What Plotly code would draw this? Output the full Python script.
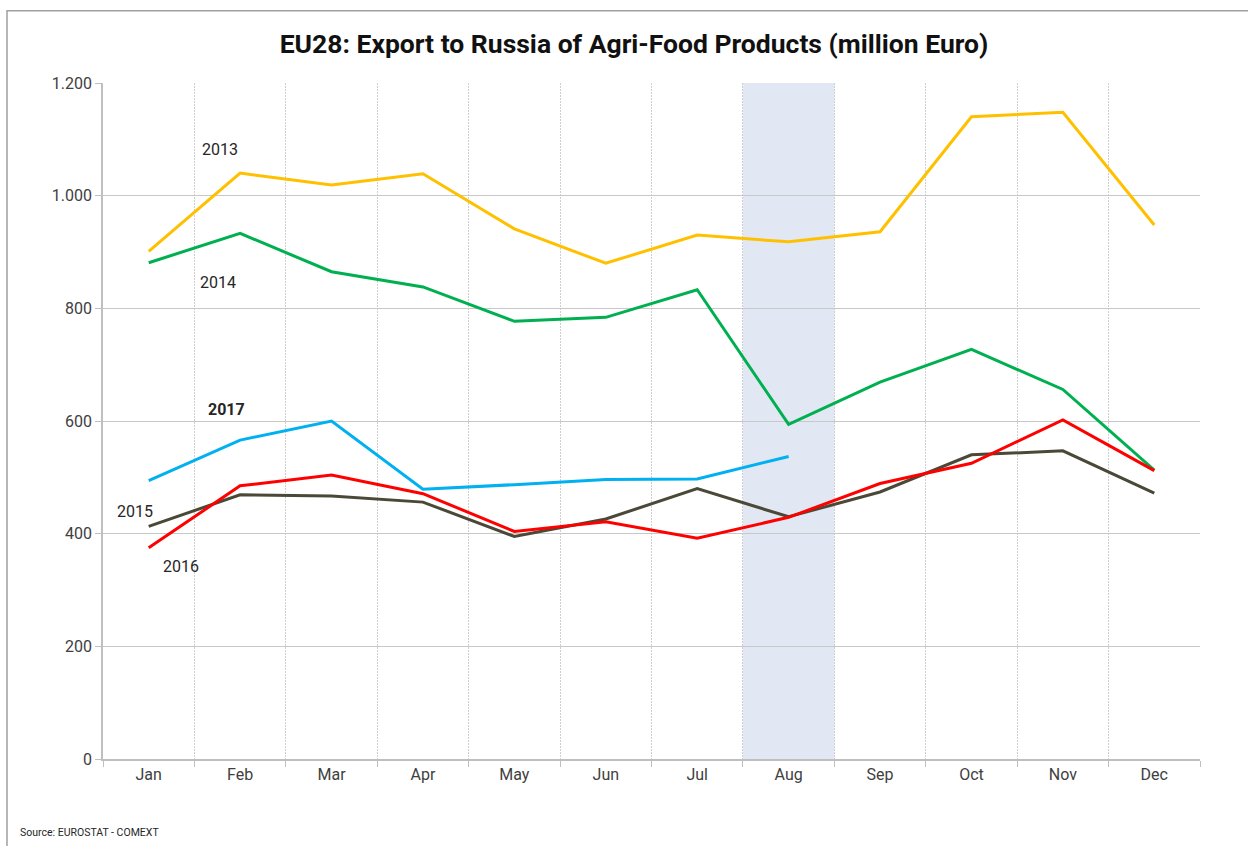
import plotly.graph_objects as go

months = ["Jan", "Feb", "Mar", "Apr", "May", "Jun", "Jul", "Aug", "Sep", "Oct", "Nov", "Dec"]
y2013 = [901, 1040, 1019, 1039, 941, 880, 930, 918, 936, 1140, 1148, 948]
y2014 = [881, 933, 865, 838, 777, 784, 833, 594, 669, 727, 656, 513]
y2015 = [413, 469, 467, 456, 395, 426, 480, 430, 474, 540, 547, 472]
y2016 = [375, 485, 504, 471, 404, 421, 392, 429, 489, 525, 602, 512]
y2017 = [494, 566, 600, 479, 487, 496, 497, 537]

ytick_vals = [0, 200, 400, 600, 800, 1000, 1200]
ytick_text = ["0", "200", "400", "600", "800", "1.000", "1.200"]

FONT = "Roboto, Arial, sans-serif"

fig = go.Figure()
series = [
    ("2013", y2013, "#FFC000"),
    ("2014", y2014, "#00B050"),
    ("2017", y2017, "#00B0F0"),
    ("2015", y2015, "#4A4836"),
    ("2016", y2016, "#FF0000"),
]
for name, vals, col in series:
    fig.add_trace(go.Scatter(x=months[:len(vals)], y=vals, mode="lines", name=name,
                             line=dict(color=col, width=3), showlegend=False))

PL, PW, PB, PH = 103, 1097, 759.3, 676.6

# Aug highlight band
fig.add_shape(type="rect", xref="x", yref="y", x0=6.5, x1=7.5, y0=0, y1=1200,
              fillcolor="#E1E8F3", line=dict(width=0), layer="below")

# outer frame
fig.add_shape(type="rect", xref="paper", yref="paper",
              x0=(7 - PL) / PW, x1=(1252 - PL) / PW,
              y0=(PB - 852) / PH, y1=(PB - 10.5) / PH,
              line=dict(color="#A0A0A0", width=1.5), fillcolor="rgba(0,0,0,0)", layer="above")

labels = [
    ("2013", 0.78, 1082, False),
    ("2014", 0.76, 845, False),
    ("2017", 0.85, 620, True),
    ("2015", -0.15, 440, False),
    ("2016", 0.35, 341, False),
]
for txt, xv, yv, bold in labels:
    fig.add_annotation(x=xv, y=yv, xref="x", yref="y",
                       text=f"<b>{txt}</b>" if bold else txt, showarrow=False,
                       font=dict(family=FONT, size=16, color="#262626"))

fig.add_annotation(x=(18 - PL) / PW, y=(PB - 833) / PH, xref="paper", yref="paper",
                   xanchor="left", yanchor="middle", text="Source: EUROSTAT - COMEXT",
                   showarrow=False, font=dict(family=FONT, size=10.5, color="#262626"))

fig.update_layout(
    width=1248, height=846,
    margin=dict(l=103, r=48, t=83, b=87),
    paper_bgcolor="white", plot_bgcolor="white",
    title=dict(text="<b>EU28: Export to Russia of Agri-Food Products (million Euro)</b>",
               x=634 / 1248, xref="container", xanchor="center",
               y=1 - 44 / 846, yref="container", yanchor="middle",
               font=dict(family=FONT, size=26.5, color="#111111")),
    xaxis=dict(type="category", categoryorder="array", categoryarray=months,
               range=[-0.5, 11.5], tickson="boundaries",
               showgrid=True, gridcolor="#CFCFCF", griddash="2px,1px", gridwidth=1,
               ticks="outside", ticklen=6, tickcolor="#BFBFBF",
               showline=True, linecolor="#BFBFBF", linewidth=1.5,
               tickfont=dict(family=FONT, size=16, color="#404040")),
    yaxis=dict(range=[0, 1200], tickvals=ytick_vals, ticktext=ytick_text,
               showgrid=True, gridcolor="#C8C8C8", gridwidth=1.2,
               ticks="outside", ticklen=6, tickcolor="#BFBFBF",
               showline=True, linecolor="#BFBFBF", linewidth=1.5, zeroline=False,
               tickfont=dict(family=FONT, size=16, color="#404040")),
)

fig.write_html("out.html", config={"displayModeBar": False},
               post_script="document.body.style.margin='0';")
